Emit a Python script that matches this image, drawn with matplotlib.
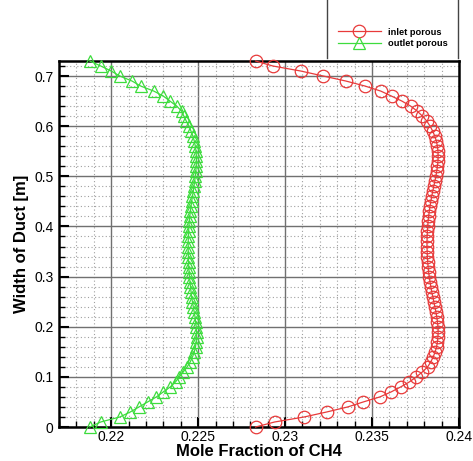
import matplotlib
matplotlib.use("Agg")
import matplotlib.pyplot as plt
from matplotlib.lines import Line2D
from matplotlib.ticker import MultipleLocator, FixedLocator, FixedFormatter

plt.rcParams['font.family'] = ['Liberation Sans', 'DejaVu Sans']

width = [0.00, 0.01, 0.02, 0.03, 0.04, 0.05, 0.06, 0.07, 0.08, 0.09,
         0.10, 0.11, 0.12, 0.13, 0.14, 0.15, 0.16, 0.17, 0.18, 0.19,
         0.20, 0.21, 0.22, 0.23, 0.24, 0.25, 0.26, 0.27, 0.28, 0.29,
         0.30, 0.31, 0.32, 0.33, 0.34, 0.35, 0.36, 0.37, 0.38, 0.39,
         0.40, 0.41, 0.42, 0.43, 0.44, 0.45, 0.46, 0.47, 0.48, 0.49,
         0.50, 0.51, 0.52, 0.53, 0.54, 0.55, 0.56, 0.57, 0.58, 0.59,
         0.60, 0.61, 0.62, 0.63, 0.64, 0.65, 0.66, 0.67, 0.68, 0.69,
         0.70, 0.71, 0.72, 0.73]

inlet = [0.22830, 0.22940, 0.23110, 0.23240, 0.23360, 0.23450, 0.23545, 0.23610, 0.23665, 0.23715,
         0.23755, 0.23790, 0.23820, 0.23838, 0.23852, 0.23863, 0.23871, 0.23876, 0.23879, 0.23880,
         0.23879, 0.23876, 0.23872, 0.23867, 0.23861, 0.23855, 0.23849, 0.23843, 0.23838, 0.23833,
         0.23829, 0.23825, 0.23822, 0.23820, 0.23818, 0.23817, 0.23816, 0.23816, 0.23817, 0.23818,
         0.23820, 0.23822, 0.23825, 0.23829, 0.23833, 0.23838, 0.23843, 0.23849, 0.23855, 0.23861,
         0.23867, 0.23872, 0.23876, 0.23879, 0.23880, 0.23879, 0.23876, 0.23870, 0.23861, 0.23849,
         0.23834, 0.23815, 0.23790, 0.23760, 0.23722, 0.23672, 0.23612, 0.23550, 0.23460, 0.23350,
         0.23220, 0.23090, 0.22930, 0.22830]

outlet = [0.21877, 0.21940, 0.22050, 0.22110, 0.22160, 0.22210, 0.22260, 0.22300, 0.22340, 0.22370,
          0.22392, 0.22415, 0.22437, 0.22455, 0.22468, 0.22478, 0.22485, 0.22489, 0.22491, 0.22491,
          0.22489, 0.22486, 0.22482, 0.22477, 0.22472, 0.22467, 0.22463, 0.22459, 0.22456, 0.22453,
          0.22450, 0.22448, 0.22446, 0.22445, 0.22444, 0.22443, 0.22443, 0.22443, 0.22444, 0.22445,
          0.22447, 0.22449, 0.22452, 0.22455, 0.22459, 0.22463, 0.22467, 0.22472, 0.22476, 0.22480,
          0.22484, 0.22487, 0.22489, 0.22490, 0.22490, 0.22488, 0.22484, 0.22478, 0.22470, 0.22459,
          0.22448, 0.22432, 0.22418, 0.22405, 0.22377, 0.22338, 0.22300, 0.22245, 0.22170, 0.22120,
          0.22050, 0.22000, 0.21940, 0.21877]

xticks = [0.22, 0.225, 0.23, 0.235, 0.24]
xticklabels = ["0.22", "0.225", "0.23", "0.235", "0.24"]
yticks = [0.0, 0.1, 0.2, 0.3, 0.4, 0.5, 0.6, 0.7]
yticklabels = ["0", "0.1", "0.2", "0.3", "0.4", "0.5", "0.6", "0.7"]

W, H = 473, 461
fig = plt.figure(figsize=(W / 100, H / 100), dpi=100)
ax = fig.add_axes([59 / W, 1 - 427 / H, (459 - 59) / W, (427 - 61) / H])

red = '#e83a3a'
green = '#3ddc3d'

l1, = ax.plot(inlet, width, '-', color=red, lw=0.9, marker='o', ms=9,
              mfc='none', mec=red, mew=0.9, clip_on=False, zorder=4,
              label='inlet porous')
l2, = ax.plot(outlet, width, '-', color=green, lw=0.9, marker='^', ms=8,
              mfc='none', mec=green, mew=0.9, clip_on=False, zorder=4,
              label='outlet porous')

ax.set_xlim(0.217, 0.24)
ax.set_ylim(0.0, 0.73)

ax.xaxis.set_major_locator(FixedLocator(xticks))
ax.xaxis.set_major_formatter(FixedFormatter(xticklabels))
ax.yaxis.set_major_locator(FixedLocator(yticks))
ax.yaxis.set_major_formatter(FixedFormatter(yticklabels))
ax.xaxis.set_minor_locator(MultipleLocator(0.001))
ax.yaxis.set_minor_locator(MultipleLocator(0.02))

ax.grid(which='major', color='#707070', lw=1.0, ls='-', zorder=1)
ax.grid(which='minor', color='#a0a0a0', lw=0.8, ls=(0, (1, 2.2)), zorder=1)
ax.set_axisbelow(True)

ax.tick_params(which='both', direction='in', top=False, right=False,
               labelsize=10, width=1.5, color='black')
ax.tick_params(which='major', length=7)
ax.tick_params(axis='x', which='major', pad=2.5)
ax.tick_params(axis='y', which='major', pad=4)
ax.tick_params(which='minor', length=4, width=1.0)
for s in ax.spines.values():
    s.set_linewidth(1.8)
    s.set_color('black')

ax.set_xlabel('Mole Fraction of CH4', fontsize=12, fontweight='bold', labelpad=0)
ax.set_ylabel('Width of Duct [m]', fontsize=12, fontweight='bold', labelpad=4)

leg = fig.legend(handles=[l1, l2], loc='center left',
                 bbox_to_anchor=(338 / W, 1 - 38 / H), frameon=False,
                 prop={'size': 6.7, 'weight': 'bold'}, handlelength=4.6,
                 handletextpad=0.75, labelspacing=0.3, borderpad=0,
                 borderaxespad=0)

fig.add_artist(Line2D([327 / W, 327 / W], [1.0, 1 - 58 / H], color='#444444', lw=1.0))
fig.add_artist(Line2D([458 / W, 458 / W], [1.0, 1 - 58 / H], color='#444444', lw=1.0))

fig.savefig('out.png', dpi=100)
